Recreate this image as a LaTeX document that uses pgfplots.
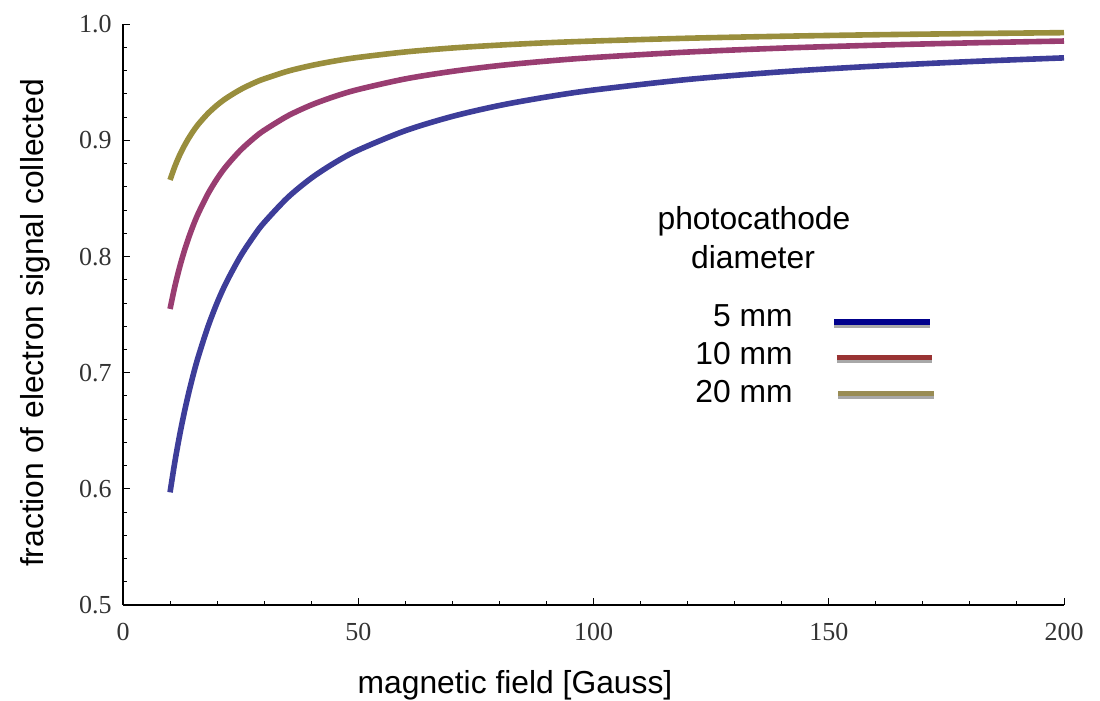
\documentclass[border=0pt]{standalone}
\usepackage{pgfplots}
\pgfplotsset{compat=1.18}
\usepackage{pgfplotstable}
\usepackage{fontspec}
\setmainfont{Liberation Sans}
\newfontfamily\serif{Liberation Serif}
\definecolor{cblue}{rgb}{0.24,0.24,0.6}
\definecolor{cred}{rgb}{0.6,0.24,0.442}
\definecolor{colive}{rgb}{0.6,0.557,0.24}
\definecolor{lblue}{rgb}{0,0,0.55}
\definecolor{lred}{rgb}{0.6,0.2,0.2}
\definecolor{lolive}{rgb}{0.6,0.55,0.33}
\definecolor{lgray}{rgb}{0.66,0.66,0.66}

\pgfplotstableread{
x y5 y10 y20
10 0.5970 0.7549 0.8660
11 0.6227 0.7740 0.8774
12 0.6453 0.7903 0.8870
13 0.6653 0.8044 0.8951
14 0.6832 0.8167 0.9022
15 0.6993 0.8276 0.9084
16 0.7138 0.8372 0.9139
18 0.7390 0.8536 0.9230
20 0.7602 0.8670 0.9304
22 0.7781 0.8781 0.9365
25 0.8005 0.8917 0.9439
28 0.8188 0.9026 0.9498
30 0.8293 0.9087 0.9530
35 0.8508 0.9211 0.9596
40 0.8675 0.9305 0.9645
45 0.8808 0.9379 0.9684
50 0.8917 0.9439 0.9715
60 0.9084 0.9530 0.9762
70 0.9207 0.9595 0.9796
80 0.9301 0.9645 0.9821
90 0.9374 0.9683 0.9841
100 0.9434 0.9714 0.9856
120 0.9525 0.9761 0.9880
140 0.9591 0.9795 0.9897
160 0.9640 0.9820 0.9910
180 0.9679 0.9840 0.9920
200 0.9711 0.9856 0.9928
}\datatable

\newcommand\px[2]{({#1*0.5},{350.5-#2*0.5})}

\begin{document}
\begin{tikzpicture}[x=1pt,y=1pt]
\useasboundingbox (0,0) rectangle (550,350.5);
\begin{axis}[
  at={(61.5pt,48pt)}, anchor=south west,
  scale only axis, width=470.5pt, height=290.35pt,
  xmin=0, xmax=200, ymin=0.5, ymax=1.0,
  axis lines=left, axis line style={-, line width=0.6pt, black},
  tick align=inside,
  major tick length=3.5pt, minor tick length=2pt,
  tick style={line width=0.5pt, black},
  xtick={0,50,100,150,200}, xticklabels={0,50,100,150,200},
  ytick={0.5,0.6,0.7,0.8,0.9,1.0}, yticklabels={0.5,0.6,0.7,0.8,0.9,1.0},
  minor x tick num=4, minor y tick num=4,
  xticklabel style={font=\serif\fontsize{13}{15}\selectfont, text=black!80, anchor=base, inner sep=0pt, yshift=-17.9pt},
  yticklabel style={font=\serif\fontsize{13}{15}\selectfont, text=black!80, anchor=east, inner sep=0pt, xshift=-5.5pt},
  clip=false,
]
\addplot[cblue, line width=2.8pt, smooth] table[x=x, y=y5] {\datatable};
\addplot[cred, line width=2.8pt, smooth] table[x=x, y=y10] {\datatable};
\addplot[colive, line width=2.8pt, smooth] table[x=x, y=y20] {\datatable};
\end{axis}
\node[rotate=90, font=\fontsize{15.9}{19}\selectfont] at \px{35}{323} {fraction of electron signal collected};
\node[anchor=base, font=\fontsize{15.9}{19}\selectfont] at \px{515}{694} {magnetic field [Gauss]};
\node[anchor=base, font=\fontsize{15.9}{19}\selectfont] at \px{754}{230} {photocathode};
\node[anchor=base, font=\fontsize{15.9}{19}\selectfont] at \px{753}{268.3} {diameter};
\node[anchor=base east, inner sep=0pt, font=\fontsize{15.9}{19}\selectfont] at \px{793}{326.7} {5 mm};
\node[anchor=base east, inner sep=0pt, font=\fontsize{15.9}{19}\selectfont] at \px{793}{365} {10 mm};
\node[anchor=base east, inner sep=0pt, font=\fontsize{15.9}{19}\selectfont] at \px{793}{402.7} {20 mm};
\draw[lgray, line width=1.7pt] \px{834}{326.5} -- \px{930}{326.5};
\draw[lblue, line width=2.6pt] \px{834}{322} -- \px{930}{322};
\draw[lgray, line width=1.7pt] \px{836.7}{361.8} -- \px{932}{361.8};
\draw[lred, line width=2.6pt] \px{836.7}{357.5} -- \px{932}{357.5};
\draw[lgray, line width=1.7pt] \px{838}{397.8} -- \px{934}{397.8};
\draw[lolive, line width=2.6pt] \px{838}{393.2} -- \px{934}{393.2};
\end{tikzpicture}
\end{document}
